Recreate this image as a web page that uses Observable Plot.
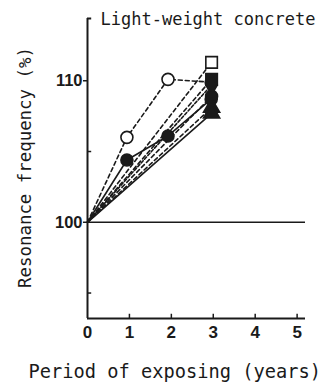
<!DOCTYPE html>
<html>
<head>
<meta charset="utf-8">
<script src="https://cdn.jsdelivr.net/npm/d3@7"></script>
<script src="https://cdn.jsdelivr.net/npm/@observablehq/plot@0.6"></script>
<style>
  html, body { margin: 0; padding: 0; background: #fff; }
  #chart { width: 322px; height: 388px; overflow: hidden; }
</style>
</head>
<body>
<div id="chart"></div>
<script>
// ---- data ----
const title = "Light-weight concrete";
const xLabel = "Period of exposing (years)";
const yLabel = "Resonance frequency (%)";

const xTicks = [0, 1, 2, 3, 4, 5];
const yTicks = [95, 100, 105, 110];
const yTickLabels = ["", "100", "", "110"];

// series with measurements at ~0,1,2,3 years
const yearsFull = [0, 0.94, 1.92, 2.95];
const openCircle = [100, 106.0, 110.1, 109.9];
const filledCircle = [100, 104.4, 106.1, 108.7];

// series with measurements at 0 and ~3 years
const yearsShort = [0, 2.96];
const openSquare = [100, 111.3];
const filledSquare = [100, 110.1];
const filledDiamond = [100, 109.7];
const filledCircle2 = [100, 108.9];
const triangleA = [100, 108.1];
const triangleB = [100, 107.7];

const baseline = [100];

// ---- table for the library ----
function series(name, xs, ys, symbol, fill, dash) {
  return xs.map((x, i) => ({name, x, y: ys[i], symbol, fill, dash, first: i === 0}));
}
const rows = [
  ...series("oc", yearsFull, openCircle, "circle", "white", "4,3"),
  ...series("fc", yearsFull, filledCircle, "circle", "#1a1a1a", null),
  ...series("os", yearsShort, openSquare, "square", "white", "4,3"),
  ...series("fs", yearsShort, filledSquare, "square", "#1a1a1a", "4,3"),
  ...series("fd", yearsShort, filledDiamond, "diamond", "#1a1a1a", "3,2"),
  ...series("fc2", yearsShort, filledCircle2, "circle", "#1a1a1a", "4,3"),
  ...series("ta", yearsShort, triangleA, "triangle", "#1a1a1a", "4,3"),
  ...series("tb", yearsShort, triangleB, "triangle", "#1a1a1a", null)
];
const names = [...new Set(rows.map(d => d.name))];

const ink = "#1a1a1a";
const xDom = [0, 5.2];
const yDom = [93.2, 114.4];

const lineMarks = names.map(n => {
  const r = rows.filter(d => d.name === n);
  return Plot.line(r, {x: "x", y: "y", stroke: ink, strokeWidth: 1.6,
    strokeDasharray: r[0].dash || undefined});
});
const dotMarks = names.map(n => {
  const r = rows.filter(d => d.name === n && !d.first);
  return Plot.dot(r, {x: "x", y: "y", symbol: () => r[0].symbol, r: r[0].symbol === "square" ? 6.5 : 6,
    fill: r[0].fill, stroke: ink, strokeWidth: 1.6});
});

const plot = Plot.plot({
  width: 322,
  height: 388,
  marginLeft: 87,
  marginRight: 17,
  marginTop: 18,
  marginBottom: 70,
  style: {background: "white", color: ink, overflow: "visible"},
  symbol: {type: "identity"},
  x: {domain: xDom, axis: null},
  y: {domain: yDom, axis: null},
  marks: [
    // frame lines
    Plot.ruleX([0], {y1: yDom[0], y2: yDom[1], stroke: ink, strokeWidth: 2}),
    Plot.ruleY([yDom[0]], {x1: xDom[0], x2: xDom[1], stroke: ink, strokeWidth: 2}),
    Plot.ruleY([yDom[1]], {x1: 0, x2: 0.1, stroke: ink, strokeWidth: 2}),
    Plot.ruleY(baseline, {x1: xDom[0], x2: xDom[1], stroke: ink, strokeWidth: 1.5}),
    // x ticks (inside)
    Plot.ruleX(xTicks.slice(1), {y1: yDom[0], y2: yDom[0] + 0.3, stroke: ink, strokeWidth: 1.5}),
    // minor y ticks (inside)
    Plot.ruleY(yTicks.filter((d, i) => yTickLabels[i] === ""), {x1: 0, x2: 0.1, stroke: ink, strokeWidth: 1.5}),
    // y ticks
    Plot.axisY({ticks: yTicks.filter((d, i) => yTickLabels[i] !== ""),
      tickFormat: d => yTickLabels[yTicks.indexOf(d)],
      tickSize: 4, tickPadding: 1, label: null, fontSize: 16.5, fontWeight: "bold",
      fontFamily: "Liberation Sans, Arial, sans-serif", strokeWidth: 1.5}),
    Plot.axisX({ticks: xTicks, tickFormat: d3.format("d"), tickSize: 0, tickPadding: 7, label: null, fontSize: 17,
      fontWeight: "bold", fontFamily: "Liberation Sans, Arial, sans-serif"}),
    ...lineMarks,
    ...dotMarks,
    // title and axis labels
    Plot.text([title], {frameAnchor: "top-left", dx: 13, dy: 1, textAnchor: "start",
      fontSize: 17, fontFamily: "DejaVu Sans Mono, monospace", lineAnchor: "middle",
      fill: ink}),
    Plot.text([xLabel], {frameAnchor: "bottom-left", dx: -59, dy: 54, textAnchor: "start",
      fontSize: 18.7, fontFamily: "DejaVu Sans Mono, monospace", lineAnchor: "middle",
      fill: ink}),
    Plot.text([yLabel], {frameAnchor: "left", dx: -62, dy: -1, rotate: -90, textAnchor: "middle",
      fontSize: 17.4, fontFamily: "DejaVu Sans Mono, monospace", lineAnchor: "middle",
      fill: ink})
  ]
});
document.getElementById("chart").appendChild(plot);
</script>
</body>
</html>
